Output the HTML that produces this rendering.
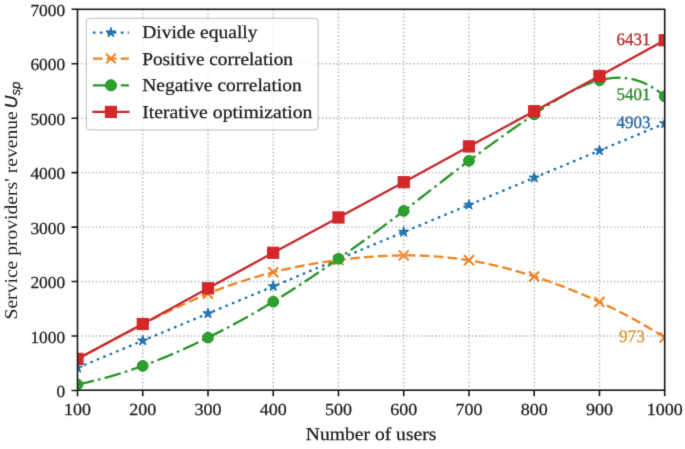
<!DOCTYPE html>
<html><head><meta charset="utf-8"><style>html,body{margin:0;padding:0;background:#fff;}svg{display:block;text-rendering:geometricPrecision;}</style></head>
<body><svg width="685" height="449" viewBox="0 0 685 449">
<defs><filter id="soft" x="0" y="0" width="685" height="449" filterUnits="userSpaceOnUse" color-interpolation-filters="sRGB"><feConvolveMatrix order="3" kernelMatrix="0.01134 0.08382 0.01134 0.08382 0.61935 0.08382 0.01134 0.08382 0.01134" divisor="1" edgeMode="duplicate"/></filter></defs>
<rect width="685" height="449" fill="#fff"/>
<g filter="url(#soft)">
<defs><clipPath id="cp"><rect x="77.5" y="9.3" width="587.2" height="381.15"/></clipPath></defs>
<path d="M77.50,390.45 L77.50,9.3 M142.74,390.45 L142.74,9.3 M207.99,390.45 L207.99,9.3 M273.23,390.45 L273.23,9.3 M338.48,390.45 L338.48,9.3 M403.72,390.45 L403.72,9.3 M468.97,390.45 L468.97,9.3 M534.21,390.45 L534.21,9.3 M599.46,390.45 L599.46,9.3 M664.70,390.45 L664.70,9.3 M77.5,336.00 L664.7,336.00 M77.5,281.55 L664.7,281.55 M77.5,227.10 L664.7,227.10 M77.5,172.65 L664.7,172.65 M77.5,118.20 L664.7,118.20 M77.5,63.75 L664.7,63.75" stroke="#b0b0b0" stroke-width="1.4" stroke-dasharray="1.35 2.3" fill="none"/>
<g clip-path="url(#cp)">
<path d="M77.50,367.85 L142.74,340.68 L207.99,313.51 L273.23,286.40 L338.48,259.23 L403.72,232.05 L468.97,204.88 L534.21,177.77 L599.46,150.60 L664.70,123.48" stroke="#1f71ab" stroke-width="2.3" fill="none" stroke-dasharray="2.63 4.34"/>
<path d="M77.50,362.45 L78.71,366.18 L82.64,366.18 L79.46,368.49 L80.67,372.22 L77.50,369.92 L74.33,372.22 L75.54,368.49 L72.36,366.18 L76.29,366.18Z" fill="#1f77b4" stroke="#1f71ab" stroke-width="1" stroke-linejoin="miter"/>
<path d="M142.74,335.28 L143.96,339.01 L147.88,339.01 L144.71,341.32 L145.92,345.05 L142.74,342.75 L139.57,345.05 L140.78,341.32 L137.61,339.01 L141.53,339.01Z" fill="#1f77b4" stroke="#1f71ab" stroke-width="1" stroke-linejoin="miter"/>
<path d="M207.99,308.11 L209.20,311.84 L213.12,311.84 L209.95,314.15 L211.16,317.88 L207.99,315.57 L204.81,317.88 L206.03,314.15 L202.85,311.84 L206.78,311.84Z" fill="#1f77b4" stroke="#1f71ab" stroke-width="1" stroke-linejoin="miter"/>
<path d="M273.23,281.00 L274.45,284.73 L278.37,284.73 L275.19,287.03 L276.41,290.76 L273.23,288.46 L270.06,290.76 L271.27,287.03 L268.10,284.73 L272.02,284.73Z" fill="#1f77b4" stroke="#1f71ab" stroke-width="1" stroke-linejoin="miter"/>
<path d="M338.48,253.83 L339.69,257.56 L343.61,257.56 L340.44,259.86 L341.65,263.59 L338.48,261.29 L335.30,263.59 L336.52,259.86 L333.34,257.56 L337.27,257.56Z" fill="#1f77b4" stroke="#1f71ab" stroke-width="1" stroke-linejoin="miter"/>
<path d="M403.72,226.65 L404.93,230.39 L408.86,230.39 L405.68,232.69 L406.90,236.42 L403.72,234.12 L400.55,236.42 L401.76,232.69 L398.59,230.39 L402.51,230.39Z" fill="#1f77b4" stroke="#1f71ab" stroke-width="1" stroke-linejoin="miter"/>
<path d="M468.97,199.48 L470.18,203.22 L474.10,203.22 L470.93,205.52 L472.14,209.25 L468.97,206.95 L465.79,209.25 L467.01,205.52 L463.83,203.22 L467.75,203.22Z" fill="#1f77b4" stroke="#1f71ab" stroke-width="1" stroke-linejoin="miter"/>
<path d="M534.21,172.37 L535.42,176.10 L539.35,176.10 L536.17,178.41 L537.39,182.14 L534.21,179.83 L531.04,182.14 L532.25,178.41 L529.08,176.10 L533.00,176.10Z" fill="#1f77b4" stroke="#1f71ab" stroke-width="1" stroke-linejoin="miter"/>
<path d="M599.46,145.20 L600.67,148.93 L604.59,148.93 L601.42,151.24 L602.63,154.97 L599.46,152.66 L596.28,154.97 L597.49,151.24 L594.32,148.93 L598.24,148.93Z" fill="#1f77b4" stroke="#1f71ab" stroke-width="1" stroke-linejoin="miter"/>
<path d="M664.70,118.08 L665.91,121.81 L669.84,121.81 L666.66,124.12 L667.87,127.85 L664.70,125.54 L661.53,127.85 L662.74,124.12 L659.56,121.81 L663.49,121.81Z" fill="#1f77b4" stroke="#1f71ab" stroke-width="1" stroke-linejoin="miter"/>
<path d="M77.50,358.87 L79.46,357.83 L81.43,356.79 L83.39,355.75 L85.36,354.71 L87.32,353.66 L89.28,352.61 L91.25,351.57 L93.21,350.52 L95.17,349.47 L97.14,348.42 L99.10,347.37 L101.07,346.32 L103.03,345.27 L104.99,344.22 L106.96,343.17 L108.92,342.12 L110.89,341.07 L112.85,340.02 L114.81,338.98 L116.78,337.93 L118.74,336.89 L120.71,335.84 L122.67,334.80 L124.63,333.76 L126.60,332.73 L128.56,331.69 L130.52,330.66 L132.49,329.63 L134.45,328.60 L136.42,327.57 L138.38,326.55 L140.34,325.53 L142.31,324.52 L144.27,323.51 L146.24,322.50 L148.20,321.49 L150.16,320.49 L152.13,319.50 L154.09,318.51 L156.06,317.52 L158.02,316.54 L159.98,315.56 L161.95,314.59 L163.91,313.62 L165.87,312.66 L167.84,311.71 L169.80,310.76 L171.77,309.81 L173.73,308.88 L175.69,307.95 L177.66,307.02 L179.62,306.10 L181.59,305.19 L183.55,304.29 L185.51,303.39 L187.48,302.50 L189.44,301.62 L191.41,300.74 L193.37,299.88 L195.33,299.02 L197.30,298.17 L199.26,297.33 L201.22,296.49 L203.19,295.67 L205.15,294.85 L207.12,294.05 L209.08,293.25 L211.04,292.46 L213.01,291.68 L214.97,290.91 L216.94,290.15 L218.90,289.40 L220.86,288.66 L222.83,287.93 L224.79,287.21 L226.75,286.49 L228.72,285.79 L230.68,285.09 L232.65,284.41 L234.61,283.73 L236.57,283.06 L238.54,282.40 L240.50,281.75 L242.47,281.11 L244.43,280.48 L246.39,279.86 L248.36,279.24 L250.32,278.64 L252.29,278.04 L254.25,277.46 L256.21,276.88 L258.18,276.31 L260.14,275.75 L262.10,275.20 L264.07,274.65 L266.03,274.12 L268.00,273.60 L269.96,273.08 L271.92,272.57 L273.89,272.07 L275.85,271.58 L277.82,271.10 L279.78,270.63 L281.74,270.17 L283.71,269.71 L285.67,269.26 L287.64,268.82 L289.60,268.39 L291.56,267.97 L293.53,267.56 L295.49,267.15 L297.45,266.75 L299.42,266.36 L301.38,265.97 L303.35,265.60 L305.31,265.23 L307.27,264.87 L309.24,264.51 L311.20,264.17 L313.17,263.83 L315.13,263.49 L317.09,263.17 L319.06,262.85 L321.02,262.53 L322.98,262.23 L324.95,261.93 L326.91,261.64 L328.88,261.35 L330.84,261.07 L332.80,260.80 L334.77,260.53 L336.73,260.27 L338.70,260.01 L340.66,259.76 L342.62,259.52 L344.59,259.28 L346.55,259.05 L348.52,258.83 L350.48,258.61 L352.44,258.40 L354.41,258.19 L356.37,257.99 L358.33,257.80 L360.30,257.62 L362.26,257.44 L364.23,257.27 L366.19,257.10 L368.15,256.94 L370.12,256.79 L372.08,256.65 L374.05,256.52 L376.01,256.39 L377.97,256.27 L379.94,256.15 L381.90,256.05 L383.87,255.95 L385.83,255.86 L387.79,255.78 L389.76,255.70 L391.72,255.64 L393.68,255.58 L395.65,255.53 L397.61,255.49 L399.58,255.46 L401.54,255.43 L403.50,255.42 L405.47,255.41 L407.43,255.41 L409.40,255.42 L411.36,255.44 L413.32,255.47 L415.29,255.50 L417.25,255.55 L419.22,255.61 L421.18,255.67 L423.14,255.74 L425.11,255.83 L427.07,255.92 L429.03,256.02 L431.00,256.14 L432.96,256.26 L434.93,256.39 L436.89,256.53 L438.85,256.68 L440.82,256.84 L442.78,257.02 L444.75,257.20 L446.71,257.39 L448.67,257.59 L450.64,257.81 L452.60,258.03 L454.56,258.26 L456.53,258.51 L458.49,258.77 L460.46,259.03 L462.42,259.31 L464.38,259.60 L466.35,259.90 L468.31,260.21 L470.28,260.53 L472.24,260.86 L474.20,261.21 L476.17,261.56 L478.13,261.93 L480.10,262.31 L482.06,262.69 L484.02,263.09 L485.99,263.50 L487.95,263.92 L489.91,264.35 L491.88,264.79 L493.84,265.24 L495.81,265.69 L497.77,266.16 L499.73,266.64 L501.70,267.13 L503.66,267.63 L505.63,268.13 L507.59,268.65 L509.55,269.17 L511.52,269.71 L513.48,270.25 L515.45,270.80 L517.41,271.36 L519.37,271.93 L521.34,272.50 L523.30,273.09 L525.26,273.68 L527.23,274.28 L529.19,274.89 L531.16,275.51 L533.12,276.14 L535.08,276.77 L537.05,277.41 L539.01,278.06 L540.98,278.71 L542.94,279.37 L544.90,280.05 L546.87,280.72 L548.83,281.41 L550.79,282.11 L552.76,282.81 L554.72,283.52 L556.69,284.24 L558.65,284.96 L560.61,285.70 L562.58,286.44 L564.54,287.19 L566.51,287.95 L568.47,288.72 L570.43,289.50 L572.40,290.28 L574.36,291.07 L576.33,291.87 L578.29,292.68 L580.25,293.50 L582.22,294.33 L584.18,295.17 L586.14,296.01 L588.11,296.86 L590.07,297.73 L592.04,298.60 L594.00,299.48 L595.96,300.37 L597.93,301.26 L599.89,302.17 L601.86,303.09 L603.82,304.01 L605.78,304.95 L607.75,305.89 L609.71,306.84 L611.68,307.81 L613.64,308.78 L615.60,309.76 L617.57,310.75 L619.53,311.75 L621.49,312.76 L623.46,313.78 L625.42,314.80 L627.39,315.84 L629.35,316.89 L631.31,317.95 L633.28,319.02 L635.24,320.09 L637.21,321.18 L639.17,322.28 L641.13,323.39 L643.10,324.50 L645.06,325.63 L647.03,326.77 L648.99,327.92 L650.95,329.07 L652.92,330.24 L654.88,331.42 L656.84,332.61 L658.81,333.81 L660.77,335.02 L662.74,336.24 L664.70,337.47" stroke="#ee8424" stroke-width="2.3" fill="none" stroke-dasharray="9.73 4.21"/>
<path d="M72.50,353.87 L82.50,363.87 M72.50,363.87 L82.50,353.87" stroke="#ee8424" stroke-width="2.0" fill="none"/>
<path d="M137.74,319.29 L147.74,329.29 M137.74,329.29 L147.74,319.29" stroke="#ee8424" stroke-width="2.0" fill="none"/>
<path d="M202.99,288.69 L212.99,298.69 M202.99,298.69 L212.99,288.69" stroke="#ee8424" stroke-width="2.0" fill="none"/>
<path d="M268.23,267.24 L278.23,277.24 M268.23,277.24 L278.23,267.24" stroke="#ee8424" stroke-width="2.0" fill="none"/>
<path d="M333.48,255.04 L343.48,265.04 M333.48,265.04 L343.48,255.04" stroke="#ee8424" stroke-width="2.0" fill="none"/>
<path d="M398.72,250.41 L408.72,260.41 M398.72,260.41 L408.72,250.41" stroke="#ee8424" stroke-width="2.0" fill="none"/>
<path d="M463.97,255.31 L473.97,265.31 M463.97,265.31 L473.97,255.31" stroke="#ee8424" stroke-width="2.0" fill="none"/>
<path d="M529.21,271.49 L539.21,281.49 M529.21,281.49 L539.21,271.49" stroke="#ee8424" stroke-width="2.0" fill="none"/>
<path d="M594.46,296.97 L604.46,306.97 M594.46,306.97 L604.46,296.97" stroke="#ee8424" stroke-width="2.0" fill="none"/>
<path d="M659.70,332.47 L669.70,342.47 M659.70,342.47 L669.70,332.47" stroke="#ee8424" stroke-width="2.0" fill="none"/>
<path d="M77.50,384.46 L79.46,384.06 L81.43,383.65 L83.39,383.23 L85.36,382.80 L87.32,382.36 L89.28,381.91 L91.25,381.45 L93.21,380.97 L95.17,380.49 L97.14,380.00 L99.10,379.50 L101.07,378.98 L103.03,378.46 L104.99,377.93 L106.96,377.39 L108.92,376.83 L110.89,376.27 L112.85,375.70 L114.81,375.12 L116.78,374.53 L118.74,373.92 L120.71,373.31 L122.67,372.70 L124.63,372.07 L126.60,371.43 L128.56,370.78 L130.52,370.12 L132.49,369.46 L134.45,368.78 L136.42,368.10 L138.38,367.41 L140.34,366.71 L142.31,366.00 L144.27,365.28 L146.24,364.55 L148.20,363.82 L150.16,363.07 L152.13,362.32 L154.09,361.56 L156.06,360.79 L158.02,360.01 L159.98,359.22 L161.95,358.43 L163.91,357.63 L165.87,356.82 L167.84,356.00 L169.80,355.17 L171.77,354.34 L173.73,353.50 L175.69,352.65 L177.66,351.79 L179.62,350.93 L181.59,350.06 L183.55,349.18 L185.51,348.29 L187.48,347.40 L189.44,346.49 L191.41,345.59 L193.37,344.67 L195.33,343.75 L197.30,342.82 L199.26,341.88 L201.22,340.94 L203.19,339.99 L205.15,339.03 L207.12,338.06 L209.08,337.09 L211.04,336.12 L213.01,335.13 L214.97,334.14 L216.94,333.14 L218.90,332.14 L220.86,331.13 L222.83,330.11 L224.79,329.09 L226.75,328.06 L228.72,327.02 L230.68,325.98 L232.65,324.93 L234.61,323.87 L236.57,322.80 L238.54,321.73 L240.50,320.66 L242.47,319.57 L244.43,318.48 L246.39,317.38 L248.36,316.28 L250.32,315.17 L252.29,314.05 L254.25,312.92 L256.21,311.79 L258.18,310.65 L260.14,309.51 L262.10,308.36 L264.07,307.20 L266.03,306.03 L268.00,304.86 L269.96,303.68 L271.92,302.49 L273.89,301.30 L275.85,300.10 L277.82,298.89 L279.78,297.68 L281.74,296.46 L283.71,295.23 L285.67,294.00 L287.64,292.76 L289.60,291.51 L291.56,290.26 L293.53,289.00 L295.49,287.74 L297.45,286.47 L299.42,285.19 L301.38,283.91 L303.35,282.62 L305.31,281.33 L307.27,280.03 L309.24,278.73 L311.20,277.42 L313.17,276.10 L315.13,274.78 L317.09,273.46 L319.06,272.13 L321.02,270.80 L322.98,269.46 L324.95,268.11 L326.91,266.76 L328.88,265.41 L330.84,264.05 L332.80,262.69 L334.77,261.33 L336.73,259.96 L338.70,258.58 L340.66,257.20 L342.62,255.82 L344.59,254.44 L346.55,253.05 L348.52,251.65 L350.48,250.25 L352.44,248.85 L354.41,247.45 L356.37,246.04 L358.33,244.62 L360.30,243.21 L362.26,241.78 L364.23,240.36 L366.19,238.93 L368.15,237.50 L370.12,236.06 L372.08,234.62 L374.05,233.18 L376.01,231.73 L377.97,230.28 L379.94,228.83 L381.90,227.37 L383.87,225.91 L385.83,224.44 L387.79,222.97 L389.76,221.50 L391.72,220.02 L393.68,218.54 L395.65,217.06 L397.61,215.57 L399.58,214.08 L401.54,212.59 L403.50,211.09 L405.47,209.59 L407.43,208.09 L409.40,206.59 L411.36,205.08 L413.32,203.57 L415.29,202.05 L417.25,200.54 L419.22,199.02 L421.18,197.50 L423.14,195.98 L425.11,194.46 L427.07,192.94 L429.03,191.42 L431.00,189.90 L432.96,188.37 L434.93,186.85 L436.89,185.33 L438.85,183.81 L440.82,182.29 L442.78,180.78 L444.75,179.26 L446.71,177.74 L448.67,176.23 L450.64,174.72 L452.60,173.21 L454.56,171.71 L456.53,170.21 L458.49,168.71 L460.46,167.21 L462.42,165.72 L464.38,164.23 L466.35,162.75 L468.31,161.27 L470.28,159.80 L472.24,158.33 L474.20,156.86 L476.17,155.40 L478.13,153.95 L480.10,152.50 L482.06,151.05 L484.02,149.61 L485.99,148.18 L487.95,146.75 L489.91,145.32 L491.88,143.90 L493.84,142.48 L495.81,141.07 L497.77,139.66 L499.73,138.25 L501.70,136.86 L503.66,135.46 L505.63,134.07 L507.59,132.68 L509.55,131.30 L511.52,129.93 L513.48,128.55 L515.45,127.19 L517.41,125.82 L519.37,124.46 L521.34,123.11 L523.30,121.76 L525.26,120.41 L527.23,119.07 L529.19,117.73 L531.16,116.40 L533.12,115.07 L535.08,113.75 L537.05,112.43 L539.01,111.11 L540.98,109.81 L542.94,108.51 L544.90,107.22 L546.87,105.94 L548.83,104.68 L550.79,103.42 L552.76,102.19 L554.72,100.97 L556.69,99.76 L558.65,98.58 L560.61,97.41 L562.58,96.27 L564.54,95.14 L566.51,94.04 L568.47,92.97 L570.43,91.92 L572.40,90.90 L574.36,89.90 L576.33,88.94 L578.29,88.01 L580.25,87.11 L582.22,86.24 L584.18,85.41 L586.14,84.61 L588.11,83.85 L590.07,83.13 L592.04,82.45 L594.00,81.81 L595.96,81.21 L597.93,80.65 L599.89,80.14 L601.86,79.67 L603.82,79.25 L605.78,78.88 L607.75,78.56 L609.71,78.29 L611.68,78.07 L613.64,77.91 L615.60,77.80 L617.57,77.74 L619.53,77.75 L621.49,77.81 L623.46,77.93 L625.42,78.11 L627.39,78.35 L629.35,78.65 L631.31,79.02 L633.28,79.46 L635.24,79.96 L637.21,80.53 L639.17,81.17 L641.13,81.88 L643.10,82.66 L645.06,83.52 L647.03,84.45 L648.99,85.45 L650.95,86.54 L652.92,87.70 L654.88,88.94 L656.84,90.26 L658.81,91.66 L660.77,93.14 L662.74,94.71 L664.70,96.37" stroke="#2a952a" stroke-width="2.3" fill="none" stroke-dasharray="16.83 4.21 2.63 4.21"/>
<circle cx="77.50" cy="384.46" r="5.4" fill="#2ca02c" stroke="#2a952a" stroke-width="1"/>
<circle cx="142.74" cy="365.84" r="5.4" fill="#2ca02c" stroke="#2a952a" stroke-width="1"/>
<circle cx="207.99" cy="337.63" r="5.4" fill="#2ca02c" stroke="#2a952a" stroke-width="1"/>
<circle cx="273.23" cy="301.70" r="5.4" fill="#2ca02c" stroke="#2a952a" stroke-width="1"/>
<circle cx="338.48" cy="258.74" r="5.4" fill="#2ca02c" stroke="#2a952a" stroke-width="1"/>
<circle cx="403.72" cy="210.93" r="5.4" fill="#2ca02c" stroke="#2a952a" stroke-width="1"/>
<circle cx="468.97" cy="160.78" r="5.4" fill="#2ca02c" stroke="#2a952a" stroke-width="1"/>
<circle cx="534.21" cy="114.33" r="5.4" fill="#2ca02c" stroke="#2a952a" stroke-width="1"/>
<circle cx="599.46" cy="80.25" r="5.4" fill="#2ca02c" stroke="#2a952a" stroke-width="1"/>
<circle cx="664.70" cy="96.37" r="5.4" fill="#2ca02c" stroke="#2a952a" stroke-width="1"/>
<path d="M77.50,358.87 L142.74,324.02 L207.99,288.30 L273.23,252.75 L338.48,217.52 L403.72,182.18 L468.97,146.41 L534.21,111.23 L599.46,75.95 L664.70,40.28" stroke="#c9292e" stroke-width="2.3" fill="none" stroke-linejoin="round"/>
<rect x="71.90" y="353.27" width="11.2" height="11.2" fill="#d62728" stroke="#c9292e" stroke-width="1"/>
<rect x="137.14" y="318.42" width="11.2" height="11.2" fill="#d62728" stroke="#c9292e" stroke-width="1"/>
<rect x="202.39" y="282.70" width="11.2" height="11.2" fill="#d62728" stroke="#c9292e" stroke-width="1"/>
<rect x="267.63" y="247.15" width="11.2" height="11.2" fill="#d62728" stroke="#c9292e" stroke-width="1"/>
<rect x="332.88" y="211.92" width="11.2" height="11.2" fill="#d62728" stroke="#c9292e" stroke-width="1"/>
<rect x="398.12" y="176.58" width="11.2" height="11.2" fill="#d62728" stroke="#c9292e" stroke-width="1"/>
<rect x="463.37" y="140.81" width="11.2" height="11.2" fill="#d62728" stroke="#c9292e" stroke-width="1"/>
<rect x="528.61" y="105.63" width="11.2" height="11.2" fill="#d62728" stroke="#c9292e" stroke-width="1"/>
<rect x="593.86" y="70.35" width="11.2" height="11.2" fill="#d62728" stroke="#c9292e" stroke-width="1"/>
<rect x="659.10" y="34.68" width="11.2" height="11.2" fill="#d62728" stroke="#c9292e" stroke-width="1"/>
</g>
<rect x="77.5" y="9.3" width="587.20" height="380.90" fill="none" stroke="#1a1a1a" stroke-width="1.6"/>
<path d="M77.50,390.2 L77.50,396.2 M142.74,390.2 L142.74,396.2 M207.99,390.2 L207.99,396.2 M273.23,390.2 L273.23,396.2 M338.48,390.2 L338.48,396.2 M403.72,390.2 L403.72,396.2 M468.97,390.2 L468.97,396.2 M534.21,390.2 L534.21,396.2 M599.46,390.2 L599.46,396.2 M664.70,390.2 L664.70,396.2 M77.5,390.45 L71.5,390.45 M77.5,336.00 L71.5,336.00 M77.5,281.55 L71.5,281.55 M77.5,227.10 L71.5,227.10 M77.5,172.65 L71.5,172.65 M77.5,118.20 L71.5,118.20 M77.5,63.75 L71.5,63.75 M77.5,9.30 L71.5,9.30" stroke="#1a1a1a" stroke-width="1.6" fill="none"/>
<text x="77.50" y="415" font-family="Liberation Serif, serif" font-size="16.9" text-anchor="middle" fill="#1c1c1c" textLength="27" lengthAdjust="spacingAndGlyphs" stroke="#1c1c1c" stroke-width="0.25">100</text>
<text x="142.74" y="415" font-family="Liberation Serif, serif" font-size="16.9" text-anchor="middle" fill="#1c1c1c" textLength="27" lengthAdjust="spacingAndGlyphs" stroke="#1c1c1c" stroke-width="0.25">200</text>
<text x="207.99" y="415" font-family="Liberation Serif, serif" font-size="16.9" text-anchor="middle" fill="#1c1c1c" textLength="27" lengthAdjust="spacingAndGlyphs" stroke="#1c1c1c" stroke-width="0.25">300</text>
<text x="273.23" y="415" font-family="Liberation Serif, serif" font-size="16.9" text-anchor="middle" fill="#1c1c1c" textLength="27" lengthAdjust="spacingAndGlyphs" stroke="#1c1c1c" stroke-width="0.25">400</text>
<text x="338.48" y="415" font-family="Liberation Serif, serif" font-size="16.9" text-anchor="middle" fill="#1c1c1c" textLength="27" lengthAdjust="spacingAndGlyphs" stroke="#1c1c1c" stroke-width="0.25">500</text>
<text x="403.72" y="415" font-family="Liberation Serif, serif" font-size="16.9" text-anchor="middle" fill="#1c1c1c" textLength="27" lengthAdjust="spacingAndGlyphs" stroke="#1c1c1c" stroke-width="0.25">600</text>
<text x="468.97" y="415" font-family="Liberation Serif, serif" font-size="16.9" text-anchor="middle" fill="#1c1c1c" textLength="27" lengthAdjust="spacingAndGlyphs" stroke="#1c1c1c" stroke-width="0.25">700</text>
<text x="534.21" y="415" font-family="Liberation Serif, serif" font-size="16.9" text-anchor="middle" fill="#1c1c1c" textLength="27" lengthAdjust="spacingAndGlyphs" stroke="#1c1c1c" stroke-width="0.25">800</text>
<text x="599.46" y="415" font-family="Liberation Serif, serif" font-size="16.9" text-anchor="middle" fill="#1c1c1c" textLength="27" lengthAdjust="spacingAndGlyphs" stroke="#1c1c1c" stroke-width="0.25">900</text>
<text x="664.70" y="415" font-family="Liberation Serif, serif" font-size="16.9" text-anchor="middle" fill="#1c1c1c" textLength="36" lengthAdjust="spacingAndGlyphs" stroke="#1c1c1c" stroke-width="0.25">1000</text>
<text x="65.2" y="397.15" font-family="Liberation Serif, serif" font-size="16.9" text-anchor="end" fill="#1c1c1c" textLength="8.7" lengthAdjust="spacingAndGlyphs" stroke="#1c1c1c" stroke-width="0.25">0</text>
<text x="65.2" y="342.70" font-family="Liberation Serif, serif" font-size="16.9" text-anchor="end" fill="#1c1c1c" textLength="34.8" lengthAdjust="spacingAndGlyphs" stroke="#1c1c1c" stroke-width="0.25">1000</text>
<text x="65.2" y="288.25" font-family="Liberation Serif, serif" font-size="16.9" text-anchor="end" fill="#1c1c1c" textLength="34.8" lengthAdjust="spacingAndGlyphs" stroke="#1c1c1c" stroke-width="0.25">2000</text>
<text x="65.2" y="233.80" font-family="Liberation Serif, serif" font-size="16.9" text-anchor="end" fill="#1c1c1c" textLength="34.8" lengthAdjust="spacingAndGlyphs" stroke="#1c1c1c" stroke-width="0.25">3000</text>
<text x="65.2" y="179.35" font-family="Liberation Serif, serif" font-size="16.9" text-anchor="end" fill="#1c1c1c" textLength="34.8" lengthAdjust="spacingAndGlyphs" stroke="#1c1c1c" stroke-width="0.25">4000</text>
<text x="65.2" y="124.90" font-family="Liberation Serif, serif" font-size="16.9" text-anchor="end" fill="#1c1c1c" textLength="34.8" lengthAdjust="spacingAndGlyphs" stroke="#1c1c1c" stroke-width="0.25">5000</text>
<text x="65.2" y="70.45" font-family="Liberation Serif, serif" font-size="16.9" text-anchor="end" fill="#1c1c1c" textLength="34.8" lengthAdjust="spacingAndGlyphs" stroke="#1c1c1c" stroke-width="0.25">6000</text>
<text x="65.2" y="16.00" font-family="Liberation Serif, serif" font-size="16.9" text-anchor="end" fill="#1c1c1c" textLength="34.8" lengthAdjust="spacingAndGlyphs" stroke="#1c1c1c" stroke-width="0.25">7000</text>
<text x="371.10" y="439.6" font-family="Liberation Serif, serif" font-size="18.2" text-anchor="middle" fill="#1c1c1c" textLength="130.5" lengthAdjust="spacingAndGlyphs" stroke="#1c1c1c" stroke-width="0.25">Number of users</text>
<g transform="translate(16.8,319.5) rotate(-90)"><text x="0" y="0" font-family="Liberation Serif, serif" font-size="18.2" fill="#1c1c1c" textLength="208.2" lengthAdjust="spacingAndGlyphs">Service providers' revenue</text><text x="211.2" y="0" font-family="Liberation Sans, sans-serif" font-style="italic" font-size="17.4" fill="#1c1c1c" stroke="#1c1c1c" stroke-width="0.35">U</text><text x="224.0" y="3.2" font-family="Liberation Sans, sans-serif" font-style="italic" font-size="13.2" fill="#1c1c1c" stroke="#1c1c1c" stroke-width="0.25">sp</text></g>
<text x="650.6" y="44.5" font-family="Liberation Serif, serif" font-size="17.5" text-anchor="end" fill="#bc292c" stroke="#bc292c" stroke-width="0.3" textLength="34" lengthAdjust="spacingAndGlyphs">6431</text>
<text x="650.6" y="99.8" font-family="Liberation Serif, serif" font-size="17.5" text-anchor="end" fill="#2a892a" stroke="#2a892a" stroke-width="0.3" textLength="34" lengthAdjust="spacingAndGlyphs">5401</text>
<text x="650.6" y="128.0" font-family="Liberation Serif, serif" font-size="17.5" text-anchor="end" fill="#2569a3" stroke="#2569a3" stroke-width="0.3" textLength="34" lengthAdjust="spacingAndGlyphs">4903</text>
<text x="644.8" y="341.9" font-family="Liberation Serif, serif" font-size="17.5" text-anchor="end" fill="#d8923a" stroke="#d8923a" stroke-width="0.3" textLength="25.8" lengthAdjust="spacingAndGlyphs">973</text>
<rect x="86.4" y="18.3" width="231.7" height="111.5" rx="3.5" ry="3.5" fill="#fff" fill-opacity="0.8" stroke="#cccccc" stroke-width="1.3"/>
<path d="M92.9,32.6 L128.9,32.6" stroke="#1f71ab" stroke-width="2.3" stroke-dasharray="2.63 4.34"/>
<path d="M110.90,27.40 L112.07,30.99 L115.85,30.99 L112.79,33.21 L113.96,36.81 L110.90,34.59 L107.84,36.81 L109.01,33.21 L105.95,30.99 L109.73,30.99Z" fill="#1f77b4" stroke="#1f71ab" stroke-width="1" stroke-linejoin="miter"/>
<text x="142.2" y="38" font-family="Liberation Serif, serif" font-size="18.2" fill="#1c1c1c" textLength="115.3" lengthAdjust="spacingAndGlyphs" stroke="#1c1c1c" stroke-width="0.25">Divide equally</text>
<path d="M92.9,58.6 L128.9,58.6" stroke="#ee8424" stroke-width="2.3" stroke-dasharray="9.73 4.21"/>
<path d="M106.10,53.80 L115.70,63.40 M106.10,63.40 L115.70,53.80" stroke="#ee8424" stroke-width="2.0" fill="none"/>
<text x="142.2" y="65" font-family="Liberation Serif, serif" font-size="18.2" fill="#1c1c1c" textLength="150.8" lengthAdjust="spacingAndGlyphs" stroke="#1c1c1c" stroke-width="0.25">Positive correlation</text>
<path d="M92.9,85.3 L128.9,85.3" stroke="#2a952a" stroke-width="2.3" stroke-dasharray="16.83 4.21 2.63 4.21"/>
<circle cx="110.90" cy="85.30" r="5.6" fill="#2ca02c" stroke="#2a952a" stroke-width="1"/>
<text x="142.2" y="91" font-family="Liberation Serif, serif" font-size="18.2" fill="#1c1c1c" textLength="159.6" lengthAdjust="spacingAndGlyphs" stroke="#1c1c1c" stroke-width="0.25">Negative correlation</text>
<path d="M92.30000000000001,111.9 L129.5,111.9" stroke="#c9292e" stroke-width="2.3"/>
<rect x="105.30" y="106.30" width="11.2" height="11.2" fill="#d62728" stroke="#c9292e" stroke-width="1"/>
<text x="142.2" y="118" font-family="Liberation Serif, serif" font-size="18.2" fill="#1c1c1c" textLength="170.3" lengthAdjust="spacingAndGlyphs" stroke="#1c1c1c" stroke-width="0.25">Iterative optimization</text>
</g></svg></body></html>
